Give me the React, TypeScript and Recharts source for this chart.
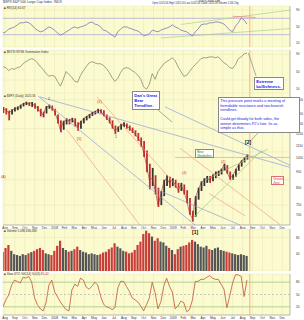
import React from "react";
import {
  ComposedChart, Line, Bar, Cell, XAxis, YAxis, CartesianGrid, ReferenceLine,
} from "recharts";

// ── data read off the picture (one point ≈ 6 trading days, Aug 2007 → Aug 2009) ──
const CLOSE = [
  1500, 1488, 1456, 1478, 1500, 1510, 1532, 1554, 1565, 1554,
  1565, 1532, 1510, 1467, 1435, 1521, 1530, 1510, 1467, 1384,
  1287, 1364, 1384, 1374, 1394, 1354, 1316, 1364, 1394, 1414,
  1435, 1456, 1467, 1488, 1478, 1435, 1404, 1374, 1325, 1278,
  1306, 1335, 1344, 1325, 1306, 1278, 1250, 1215, 1180, 1097,
  999, 898, 911, 837, 752, 808, 885, 911, 879, 898,
  867, 837, 867, 825, 779, 707, 680, 790, 837, 879,
  898, 911, 898, 925, 944, 951, 965, 999, 951, 911,
  925, 965, 999, 1028, 1050, 1073,
];
const LOW = [
  1455, 1440, 1380, 1440, 1470, 1485, 1500, 1525, 1540, 1530,
  1520, 1500, 1470, 1420, 1410, 1450, 1500, 1480, 1430, 1350,
  1270, 1290, 1340, 1340, 1360, 1320, 1280, 1300, 1350, 1380,
  1400, 1425, 1440, 1455, 1450, 1420, 1385, 1350, 1300, 1250,
  1270, 1290, 1315, 1300, 1280, 1260, 1230, 1190, 1140, 1060,
  950, 840, 860, 810, 740, 750, 800, 860, 850, 860,
  850, 820, 830, 810, 760, 700, 666, 690, 780, 830,
  860, 880, 880, 890, 910, 925, 935, 960, 940, 900,
  900, 920, 960, 990, 1020, 1040,
];
const HIGH = [
  1520, 1505, 1480, 1495, 1515, 1525, 1545, 1565, 1578, 1572,
  1575, 1560, 1530, 1500, 1470, 1530, 1545, 1535, 1500, 1440,
  1380, 1375, 1400, 1395, 1405, 1400, 1360, 1375, 1405, 1425,
  1445, 1465, 1478, 1500, 1495, 1485, 1440, 1410, 1380, 1330,
  1320, 1345, 1360, 1350, 1330, 1310, 1285, 1260, 1220, 1190,
  1110, 1010, 980, 930, 850, 830, 900, 930, 920, 910,
  900, 880, 880, 870, 835, 790, 720, 800, 850, 890,
  910, 925, 925, 935, 955, 960, 975, 1010, 1000, 955,
  935, 975, 1005, 1035, 1058, 1080,
];
const RSI = [
  34, 37, 44, 46, 49, 54, 59, 59, 61, 59,
  54, 46, 41, 37, 39, 44, 49, 46, 41, 34,
  29, 32, 37, 41, 46, 49, 46, 49, 51, 54,
  59, 61, 56, 54, 49, 41, 39, 34, 29, 24,
  37, 44, 49, 49, 46, 44, 41, 39, 34, 27,
  29, 32, 41, 39, 37, 41, 44, 46, 49, 54,
  49, 46, 41, 39, 37, 32, 27, 37, 44, 54,
  56, 56, 59, 59, 61, 61, 59, 56, 49, 41,
  37, 51, 59, 71, 66, 56,
];
const OSC = [
  61, 59, 52, 57, 55, 59, 61, 68, 73, 77,
  80, 77, 70, 61, 55, 45, 39, 41, 39, 27,
  16, 32, 50, 43, 36, 27, 25, 41, 52, 61,
  70, 73, 70, 68, 68, 64, 57, 48, 36, 27,
  34, 48, 57, 59, 57, 52, 48, 41, 32, 14,
  9, 20, 45, 32, 50, 59, 68, 73, 77, 82,
  75, 61, 50, 39, 41, 50, 59, 66, 73, 80,
  82, 82, 84, 84, 82, 84, 77, 70, 66, 59,
  57, 66, 80, 84, 91, 93,
];
const VOLUME = [
  45, 55, 62, 48, 40, 38, 36, 40, 38, 42,
  45, 48, 52, 55, 50, 42, 40, 38, 48, 60,
  72, 55, 50, 46, 48, 52, 58, 50, 46, 44,
  40, 42, 40, 38, 40, 44, 46, 52, 56, 66,
  58, 54, 48, 46, 42, 44, 50, 62, 70, 88,
  96, 90, 82, 72, 78, 70, 68, 60, 55, 50,
  40, 52, 58, 60, 62, 68, 74, 70, 64, 58,
  56, 60, 52, 50, 54, 56, 50, 48, 46, 44,
  42, 40, 38, 40, 38, 36,
];
const STOCH = [
  20, 37, 49, 73, 85, 82, 78, 92, 90, 94,
  80, 42, 25, 15, 10, 30, 73, 85, 56, 44,
  32, 22, 13, 10, 61, 75, 70, 90, 85, 68,
  63, 70, 80, 73, 46, 27, 20, 18, 13, 18,
  66, 82, 82, 70, 58, 42, 37, 32, 22, 10,
  25, 42, 80, 54, 15, 32, 70, 90, 70, 56,
  15, 22, 34, 30, 8, 13, 37, 82, 82, 87,
  87, 92, 96, 90, 87, 87, 75, 63, 18, 46,
  78, 98, 98, 94, 45, 85,
];
const MONTHS = [
  "Aug", "Sep", "Oct", "Nov", "Dec", "2008", "Feb", "Mar", "Apr", "May",
  "Jun", "Jul", "Aug", "Sep", "Oct", "Nov", "Dec", "2009", "Feb", "Mar",
  "Apr", "May", "Jun", "Jul", "Aug", "Sep", "Oct", "Nov", "Dec",
];
const PRICE_TICKS = [700, 750, 800, 850, 900, 950, 1000, 1050, 1100, 1150, 1200, 1250, 1300, 1350, 1400, 1450, 1500, 1550, 1600];

// trend lines drawn on the price panel: [x1, price1, x2, price2]
const BLUE_LINES = [
  [12.9, 1633, 100, 984],
  [12.2, 1644, 66.9, 650],
  [56.4, 1521, 100, 999],
  [51.9, 851, 82.6, 650],
];
const SALMON_LINES = [
  [22.3, 1287, 47.7, 650],
  [32.8, 1633, 61.7, 837],
  [61.7, 1129, 96.5, 652],
  [71.8, 815, 84.3, 695],
  [60, 1057, 100, 1057],
];
const GREEN_LINES = [
  [65.2, 670, 90.2, 1113],
  [70.4, 898, 92.3, 1122],
];
// connectors from the text boxes to the chart
const GREY_LINES = [
  [54, 1486, 58.9, 1364],
  [88.8, 1258, 86.4, 1195],
];

const rows = CLOSE.map((close, i) => ({
  i, close, hl: [LOW[i], HIGH[i]], rsi: RSI[i], osc: OSC[i], vol: VOLUME[i], stoch: STOCH[i],
}));
const isUp = (i: number) => i > 0 && CLOSE[i] >= CLOSE[i - 1];

const TICK_STEP = 3.45;
const MONTH_TICKS = MONTHS.map((_, k) => 0.7 + k * TICK_STEP);
const monthLabel = (v: number) => MONTHS[Math.round((v - 0.7) / TICK_STEP)] ?? "";

const BG = "#fbfbcf";
const GRID = "#e6e4b6";
const NOW = 86;
const FONT = "'Liberation Sans', Arial, sans-serif";
const tiny = { fontSize: 3.2, fill: "#333", fontFamily: FONT };

function xAxis(show: boolean) {
  return (
    <XAxis
      dataKey="i" type="number" domain={[0, 100]} ticks={MONTH_TICKS}
      hide={!show} height={5} tickLine={false} tickSize={0} axisLine={{ stroke: "#999", strokeWidth: 0.6 }}
      tick={tiny} tickFormatter={monthLabel} interval={0} allowDataOverflow
    />
  );
}

function yAxis(props: any) {
  return (
    <YAxis orientation="right" width={14} tick={{ ...tiny, dx: -2 }} tickLine={false}
      axisLine={{ stroke: "#999", strokeWidth: 0.6 }} {...props} />
  );
}

const seg = (l: number[]) => [{ x: l[0], y: l[1] }, { x: l[2], y: l[3] }];

const Box = ({ x, y, w, h, color = "#2222dd", size = 4.3, children, border = "#888", bold = false }: any) => (
  <div style={{
    position: "absolute", left: x, top: y, width: w, height: h, background: "#fff",
    border: `0.6px solid ${border}`, color, fontSize: size, lineHeight: 1.22,
    fontFamily: FONT, fontWeight: bold ? 700 : 400, padding: "1px 1.2px", boxSizing: "border-box",
    whiteSpace: "pre", overflow: "hidden",
  }}>{children}</div>
);

const Txt = ({ x, y, color = "#333", size = 3.4, children, bold = false }: any) => (
  <div style={{
    position: "absolute", left: x, top: y, color, fontSize: size, fontFamily: FONT,
    fontWeight: bold ? 700 : 400, whiteSpace: "pre", lineHeight: 1,
  }}>{children}</div>
);

export default function App() {
  return (
    <div style={{ position: "absolute", left: 0, top: 0, width: 304, height: 320, background: "#fff", overflow: "hidden" }}>
      {/* header */}
      <Txt x={3} y={0.5} size={3.4}>$SPX S&P 500 Large Cap Index  INDX</Txt>
      <Txt x={196} y={0.3} size={2.8}>© StockCharts.com</Txt>
      <Txt x={152} y={3} size={2.6}>Open 1025.56 High 1025.56 Low 1025.56 Close 1025.56 Volume 5.1B Chg</Txt>

      {/* panel A: RSI */}
      <div style={{ position: "absolute", left: 0, top: 5 }}>
        <ComposedChart width={304} height={43} data={rows} margin={{ top: 1, right: 0, left: 3, bottom: 1 }}>
          <CartesianGrid fill={BG} stroke={GRID} strokeWidth={0.5} />
          {xAxis(false)}
          {yAxis({ domain: [0, 100], ticks: [10, 30, 50, 70, 90] })}
          <ReferenceLine y={70} stroke="#b0a8d8" strokeWidth={0.8} />
          <ReferenceLine y={30} stroke="#b0a8d8" strokeWidth={0.8} />
          <ReferenceLine segment={[{ x: 55, y: 22 }, { x: 100, y: 45 }]} stroke="#a8d090" strokeWidth={0.7} />
          <ReferenceLine segment={[{ x: 62, y: 55 }, { x: 100, y: 90 }]} stroke="#a8d090" strokeWidth={0.7} />
          <ReferenceLine segment={[{ x: 80, y: 75 }, { x: 88, y: 72 }]} stroke="#f08080" strokeWidth={0.7} />
          <ReferenceLine x={NOW} stroke="#f0a070" strokeWidth={0.8} />
          <Line dataKey="rsi" stroke="#7a76b8" strokeWidth={0.8} dot={false} isAnimationActive={false} />
        </ComposedChart>
      </div>
      <Txt x={4} y={7} size={3}>■ RSI(14) 60.67</Txt>

      {/* panel B: breadth oscillator */}
      <div style={{ position: "absolute", left: 0, top: 48 }}>
        <ComposedChart width={304} height={45} data={rows} margin={{ top: 2, right: 0, left: 3, bottom: 0 }}>
          <CartesianGrid fill={BG} stroke={GRID} strokeWidth={0.5} />
          {xAxis(false)}
          {yAxis({ domain: [0, 100], ticks: [10, 30, 50, 70, 90] })}
          <ReferenceLine x={NOW} stroke="#f0a070" strokeWidth={0.8} />
          <ReferenceLine segment={[{ x: 85.5, y: 93 }, { x: 88.2, y: 39 }]} stroke="#777" strokeWidth={0.6} ifOverflow="visible" />
          <Line dataKey="osc" stroke="#8a8a70" strokeWidth={0.8} dot={false} isAnimationActive={false} />
        </ComposedChart>
      </div>
      <Txt x={4} y={51} size={3}>■ $NYSI NYSE Summation Index</Txt>

      {/* main price panel */}
      <div style={{ position: "absolute", left: 0, top: 93 }}>
        <ComposedChart width={304} height={137} data={rows} margin={{ top: 0, right: 0, left: 3, bottom: 0 }}>
          <CartesianGrid fill={BG} stroke={GRID} strokeWidth={0.5} />
          {xAxis(true)}
          {yAxis({ scale: "log", domain: [650, 1680], allowDataOverflow: true, ticks: PRICE_TICKS })}
          {BLUE_LINES.map((l, k) => (
            <ReferenceLine key={"b" + k} segment={seg(l)} stroke="#8f9fd8" strokeWidth={0.7} ifOverflow="visible" />
          ))}
          {SALMON_LINES.map((l, k) => (
            <ReferenceLine key={"s" + k} segment={seg(l)} stroke="#f0a080" strokeWidth={0.7} ifOverflow="visible" />
          ))}
          {GREEN_LINES.map((l, k) => (
            <ReferenceLine key={"g" + k} segment={seg(l)} stroke="#9cc880" strokeWidth={0.7} ifOverflow="visible" />
          ))}
          {GREY_LINES.map((l, k) => (
            <ReferenceLine key={"c" + k} segment={seg(l)} stroke="#777" strokeWidth={0.6} ifOverflow="visible" />
          ))}
          <ReferenceLine x={NOW} stroke="#f0a070" strokeWidth={0.8} />
          <Bar dataKey="hl" barSize={1.8} isAnimationActive={false}>
            {rows.map((r) => (
              <Cell key={r.i} fill={isUp(r.i) ? "#333" : "#c03030"} />
            ))}
          </Bar>
          <Line dataKey="close" stroke="#a82828" strokeWidth={0.6} dot={false} isAnimationActive={false} />
        </ComposedChart>
      </div>
      <Txt x={4} y={95} size={3}>■ $SPX (Daily) 1025.56</Txt>

      {/* volume */}
      <div style={{ position: "absolute", left: 0, top: 228 }}>
        <ComposedChart width={304} height={43} data={rows} margin={{ top: 1, right: 0, left: 3, bottom: 0 }}>
          <CartesianGrid fill={BG} stroke={GRID} strokeWidth={0.5} />
          {xAxis(false)}
          {yAxis({ domain: [0, 100], ticks: [20, 40, 60, 80] })}
          <ReferenceLine x={NOW} stroke="#f0a070" strokeWidth={0.8} />
          <Bar dataKey="vol" barSize={2.2} isAnimationActive={false}>
            {rows.map((r) => (
              <Cell key={r.i} fill={isUp(r.i) ? "#555" : "#c83c3c"} />
            ))}
          </Bar>
        </ComposedChart>
      </div>
      <Txt x={4} y={230} size={3}>■ Volume 5,098,436,096</Txt>

      {/* stochastic */}
      <div style={{ position: "absolute", left: 0, top: 271 }}>
        <ComposedChart width={304} height={49} data={rows} margin={{ top: 3, right: 0, left: 3, bottom: 0 }}>
          <CartesianGrid fill={BG} stroke={GRID} strokeWidth={0.5} />
          {xAxis(true)}
          {yAxis({ domain: [0, 100], ticks: [20, 50, 80] })}
          <ReferenceLine y={80} stroke="#a8d090" strokeWidth={0.8} />
          <ReferenceLine y={50} stroke="#aaa" strokeWidth={0.6} strokeDasharray="2 2" />
          <ReferenceLine y={20} stroke="#a8d090" strokeWidth={0.8} />
          <ReferenceLine x={NOW} stroke="#f0a070" strokeWidth={0.8} />
          <Line dataKey="stoch" stroke="#c0563a" strokeWidth={0.8} dot={false} isAnimationActive={false} />
        </ComposedChart>
      </div>
      <Txt x={4} y={273} size={3}>■ Slow STO %K(14) %D(3) <span style={{ color: "#c03030" }}>85.42</span></Txt>

      {/* annotations */}
      <Box x={132} y={91} w={28} h={19} bold size={4.1}>{"Dan's Great\nBear\nTrendline."}</Box>
      <Box x={254} y={77} w={30} h={13} bold size={4.3}>{"Extreme\nbullishness."}</Box>
      <Box x={218} y={97} w={82} h={36} size={3.75}>
        {"This pressure point marks a meeting of\nformidable resistance and two bearish\ntrendlines.\n\nCould get bloody for both sides, the\nwinner determines P2's fate. Its as\nsimple as that."}
      </Box>
      <Box x={195} y={149} w={19} h={9} color="#2e7d32" size={3.1}>{"Bear\nWedgelets"}</Box>
      <Box x={271} y={176} w={13} h={9} color="#e03030" border="#e07070" size={3.1}>{"Ground\nZero"}</Box>
      <Txt x={245} y={140} size={5} bold color="#111">[2]</Txt>
      <Txt x={192} y={230} size={5} bold color="#111">[1]</Txt>
      <Txt x={77} y={137} size={4} color="#e03030">[1]</Txt>
      <Txt x={97} y={100} size={4} color="#e03030">(1)</Txt>
      <Txt x={221} y={161} size={3.6} color="#e03030">(2)</Txt>
      <Txt x={182} y={172} size={3.6} color="#e03030">(4)</Txt>
      <Txt x={1} y={176} size={3.6} color="#e03030">(A)</Txt>
      <Txt x={42} y={115} size={3.4} color="#2222dd">1</Txt>
      <Txt x={48} y={98} size={3.4} color="#2222dd">2</Txt>
      <Txt x={60} y={131} size={3.4} color="#2222dd">1</Txt>
      <Txt x={115} y={136} size={3.4} color="#2222dd">1</Txt>
    </div>
  );
}
